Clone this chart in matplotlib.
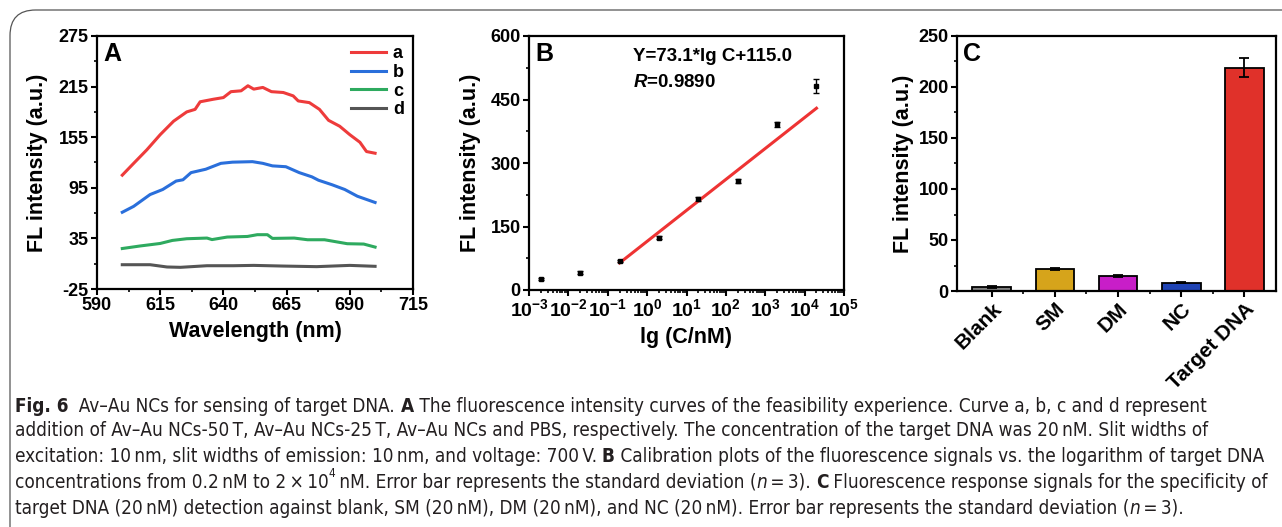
import numpy as np
import matplotlib
matplotlib.use("Agg")
import matplotlib.pyplot as plt
from matplotlib.patches import FancyBboxPatch
from matplotlib.ticker import MultipleLocator, FixedLocator, LogLocator, NullFormatter

plt.rcParams['font.family'] = ['Liberation Sans', 'DejaVu Sans']
plt.rcParams['axes.unicode_minus'] = False
plt.rcParams['mathtext.fontset'] = 'custom'
plt.rcParams['mathtext.rm'] = 'Liberation Sans:bold'
plt.rcParams['mathtext.bf'] = 'Liberation Sans:bold'
plt.rcParams['mathtext.it'] = 'Liberation Sans:italic:bold'

# ---- panel A: emission curves
wl_a = [600, 604.5, 609.7, 615, 620.3, 625.5, 628.8, 630.8, 636, 640, 643, 647, 649.7,
        652, 655.6, 659, 663.7, 667.6, 669.6, 674, 678, 681.6, 686, 690, 694, 696.6, 700]
fl_a = [110, 124, 140, 158, 174, 185, 188, 197, 200, 202, 209, 210, 216,
        212, 214, 209, 208, 204, 198, 196, 188, 175, 168, 158, 149, 138, 136]
wl_b = [600, 604.5, 611, 616, 621.3, 624, 627.2, 633, 639, 643.6, 651.5, 655.6, 659.4,
        664.7, 670, 675, 677.6, 683, 688, 693, 700]
fl_b = [66, 73, 87, 93, 103, 104.5, 113, 117, 124, 125.4, 126, 124, 121,
        120, 113, 108, 104, 98.6, 93, 85, 77.6]
wl_c = [600, 607, 615, 619.8, 625.5, 633.5, 635.5, 641.5, 649.5, 653.4, 657.4, 659.4,
        668, 673.3, 680, 689, 695.5, 700]
fl_c = [23, 26, 29, 32.6, 34.6, 35.4, 33.6, 36.6, 37.3, 39.4, 39.4, 35,
        35.4, 33.4, 33.4, 28.7, 28.3, 24.7]
wl_d = [600, 611, 617.7, 623, 633.5, 644, 652, 663.7, 676.9, 690, 700]
fl_d = [3.8, 3.8, 1.1, 0.7, 2.6, 2.6, 3.0, 2.2, 1.5, 3.0, 1.9]
curve_labels = ['a', 'b', 'c', 'd']

# ---- panel B: calibration
conc = [0.002, 0.02, 0.2, 2, 20, 200, 2000, 20000]
fl_cal = [26, 41, 69, 124, 215, 258, 391, 482]
err_cal = [2, 3, 2, 4, 4, 5, 7, 16.5]
slope, intercept = 73.1, 115.0
fit_range = [0.2, 20000]

# ---- panel C: specificity
groups = ['Blank', 'SM', 'DM', 'NC', 'Target DNA']
fl_spec = [3.9, 21.8, 14.4, 8.2, 219]
err_spec = [1.0, 0.9, 1.0, 0.8, 9.0]
bar_colors = ['#7f7f7f', '#d6a41b', '#c81ec8', '#1f43b4', '#e0312a']

W, H = 1282, 527
fig = plt.figure(figsize=(W / 100, H / 100), dpi=100)

# rounded frame around the figure
frame = FancyBboxPatch((10 / W, -0.1), 1.2, 1.1 - 10 / H, transform=fig.transFigure,
                       boxstyle="round,pad=0,rounding_size=0.02", fill=False,
                       edgecolor='#555555', linewidth=0.9, mutation_aspect=W / H)
fig.patches.append(frame)

tick_fs = 13
lab_fs = 15.5


def style_axes(ax):
    for s in ax.spines.values():
        s.set_linewidth(1.6)
    ax.tick_params(which='major', direction='out', length=4, width=1.5, labelsize=tick_fs, pad=2)
    ax.tick_params(which='minor', direction='out', length=2.5, width=1.2)
    for lab in ax.get_xticklabels() + ax.get_yticklabels():
        lab.set_fontweight('bold')


# ---- A
axA = fig.add_axes([97 / W, 1 - 289 / H, 316 / W, 253 / H])
axA.plot(wl_a, fl_a, color='#ee3b3b', lw=2.2, label=curve_labels[0])
axA.plot(wl_b, fl_b, color='#2a6fdb', lw=2.2, label=curve_labels[1])
axA.plot(wl_c, fl_c, color='#2eaa5f', lw=2.2, label=curve_labels[2])
axA.plot(wl_d, fl_d, color='#555555', lw=2.2, label=curve_labels[3])
axA.set_xlim(590, 715)
axA.set_ylim(-25, 275)
axA.xaxis.set_major_locator(FixedLocator(np.arange(590, 716, 25)))
axA.xaxis.set_minor_locator(FixedLocator(np.arange(602.5, 715, 25)))
axA.yaxis.set_major_locator(FixedLocator(np.arange(-25, 276, 60)))
axA.yaxis.set_minor_locator(FixedLocator(np.arange(5, 276, 60)))
style_axes(axA)
axA.set_xlabel('Wavelength (nm)', fontsize=lab_fs, fontweight='bold', labelpad=5)
axA.set_ylabel('FL intensity (a.u.)', fontsize=lab_fs, fontweight='bold', labelpad=8)
axA.text(0.02, 0.975, 'A', transform=axA.transAxes, fontsize=18, fontweight='bold',
         va='top', ha='left')
leg = axA.legend(loc='upper right', frameon=False, handlelength=1.9, handletextpad=0.4,
                 labelspacing=0.1, borderaxespad=0.1, prop={'weight': 'bold', 'size': 13})

# ---- B
axB = fig.add_axes([529 / W, 1 - 290 / H, 315 / W, 254 / H])
axB.errorbar(conc, fl_cal, yerr=err_cal, fmt='s', color='black', ms=2.5,
             elinewidth=1.0, capsize=2.2, capthick=1.0)
fx = np.array(fit_range)
axB.plot(fx, slope * np.log10(fx) + intercept, color='#ee3333', lw=2.2)
axB.set_xscale('log')
axB.set_xlim(1e-3, 1e5)
axB.set_ylim(0, 600)
axB.xaxis.set_minor_locator(LogLocator(base=10, subs=np.arange(2, 10), numticks=20))
axB.xaxis.set_minor_formatter(NullFormatter())
decades = np.arange(-3, 6)
axB.set_xticks([10.0 ** d for d in decades])
axB.set_xticklabels([r'$\mathbf{10^{%d}}$' % d for d in decades])
axB.yaxis.set_major_locator(MultipleLocator(150))
axB.yaxis.set_minor_locator(MultipleLocator(75))
style_axes(axB)
axB.tick_params(axis='x', labelsize=14)
axB.set_xlabel('lg (C/nM)', fontsize=lab_fs, fontweight='bold', labelpad=5)
axB.set_ylabel('FL intensity (a.u.)', fontsize=lab_fs, fontweight='bold', labelpad=6.5)
axB.text(0.02, 0.975, 'B', transform=axB.transAxes, fontsize=18, fontweight='bold',
         va='top', ha='left')
axB.text(0.33, 0.92, 'Y=%.1f*lg C+%.1f' % (slope, intercept), transform=axB.transAxes,
         fontsize=13.5, fontweight='bold', va='center', ha='left')
axB.text(0.33, 0.815, r'$\mathit{R}$=0.9890', transform=axB.transAxes,
         fontsize=13.5, fontweight='bold', va='center', ha='left')

# ---- C
axC = fig.add_axes([957 / W, 1 - 291 / H, 319 / W, 255 / H])
xpos = np.arange(len(groups))
axC.bar(xpos, fl_spec, width=0.61, color=bar_colors, edgecolor='black', linewidth=1.3)
axC.errorbar(xpos, fl_spec, yerr=err_spec, fmt='none', ecolor='black',
             elinewidth=1.3, capsize=3.5, capthick=1.3)
axC.set_xlim(-0.55, 4.5)
axC.set_ylim(0, 250)
axC.set_xticks(xpos)
axC.set_xticklabels(groups)
axC.xaxis.set_minor_locator(FixedLocator(xpos[:-1] + 0.5))
axC.yaxis.set_major_locator(MultipleLocator(50))
axC.yaxis.set_minor_locator(MultipleLocator(25))
style_axes(axC)
for lab in axC.get_xticklabels():
    lab.set_rotation(45)
    lab.set_ha('right')
    lab.set_rotation_mode('anchor')
    lab.set_fontsize(15)
axC.set_ylabel('FL intensity (a.u.)', fontsize=lab_fs, fontweight='bold', labelpad=3)
axC.text(0.02, 0.975, 'C', transform=axC.transAxes, fontsize=18, fontweight='bold',
         va='top', ha='left')

# ---- caption, drawn run by run so bold / italic pieces line up
cap_family = ['DejaVu Sans', 'Liberation Sans']
cap_stretch = 'condensed'
cap_color = '#231f20'
renderer = fig.canvas.get_renderer()

caption = [
    [('Fig. 6', 'b'), ('  Av\u2013Au NCs for sensing of target DNA. ', ''), ('A', 'b'),
     (' The fluorescence intensity curves of the feasibility experience. Curve a, b, c and d represent', '')],
    [('addition of Av\u2013Au NCs-50\u2009T, Av\u2013Au NCs-25\u2009T, Av\u2013Au NCs and PBS, respectively. '
      'The concentration of the target DNA was 20\u2009nM. Slit widths of', '')],
    [('excitation: 10\u2009nm, slit widths of emission: 10\u2009nm, and voltage: 700\u2009V. ', ''), ('B', 'b'),
     (' Calibration plots of the fluorescence signals vs. the logarithm of target DNA', '')],
    [('concentrations from 0.2\u2009nM to 2\u2009\u00d7\u200910', ''), ('4', 'sup'),
     ('\u2009nM. Error bar represents the standard deviation (', ''), ('n', 'i'), ('\u2009=\u20093). ', ''),
     ('C', 'b'), (' Fluorescence response signals for the specificity of', '')],
    [('target DNA (20\u2009nM) detection against blank, SM (20\u2009nM), DM (20\u2009nM), and NC (20\u2009nM). '
      'Error bar represents the standard deviation (', ''), ('n', 'i'), ('\u2009=\u20093).', '')],
]


def run_props(kind, size):
    p = dict(family=cap_family, color=cap_color, fontsize=size, fontstretch=cap_stretch)
    if kind == 'b':
        p['fontweight'] = 'bold'
    if kind == 'i':
        p['fontstyle'] = 'italic'
    if kind == 'sup':
        p['fontsize'] = size * 0.62
    return p


def run_width(s, kind, size):
    t1 = fig.text(0, 0, 'X' + s + 'X', **run_props(kind, size))
    t2 = fig.text(0, 0, 'XX', **run_props(kind, size))
    w = t1.get_window_extent(renderer).width - t2.get_window_extent(renderer).width
    t1.remove()
    t2.remove()
    return w


base = 12.0
w3 = sum(run_width(s, k, base) for s, k in caption[2])
cap_size = base * 1253.0 / w3

line_y = [406, 431, 457, 482, 508]
for runs, yy in zip(caption, line_y):
    x = 15.0
    for s, kind in runs:
        yoff = -0.45 * cap_size * 1.389 if kind == 'sup' else 0
        fig.text(x / W, 1 - (yy + yoff) / H, s, va='center', ha='left', **run_props(kind, cap_size))
        x += run_width(s, kind, cap_size)

fig.savefig('out.png', dpi=100)
